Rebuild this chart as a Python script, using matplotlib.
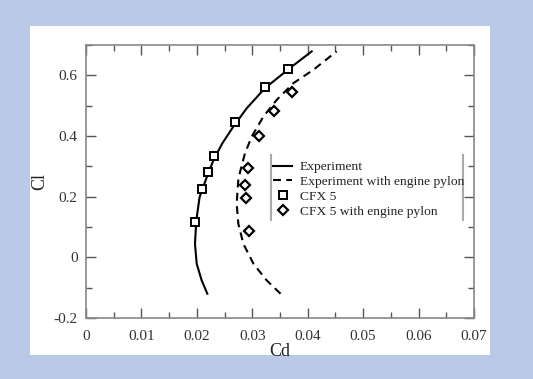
import matplotlib
matplotlib.use("Agg")
import matplotlib.pyplot as plt
from matplotlib.ticker import MultipleLocator
from matplotlib.lines import Line2D

plt.rcParams['font.family'] = ['Liberation Serif', 'DejaVu Serif']

# Experiment (clean)
exp_cd = [0.02189, 0.02087, 0.01997, 0.01966, 0.01990, 0.0205, 0.0218, 0.0230, 0.0246,
          0.02658, 0.0290, 0.0323, 0.0368, 0.04072]
exp_cl = [-0.120, -0.076, -0.021, 0.045, 0.122, 0.199, 0.265, 0.321, 0.376,
          0.431, 0.4915, 0.558, 0.624, 0.679]
# Experiment with engine pylon
pyl_cd = [0.0351, 0.0326, 0.0302, 0.02838, 0.02748, 0.02718, 0.02748, 0.0278, 0.02868,
          0.0299, 0.0320, 0.0344, 0.0374, 0.0410, 0.04522]
pyl_cl = [-0.120, -0.076, -0.021, 0.045, 0.111, 0.1775, 0.2545, 0.282, 0.343,
          0.398, 0.464, 0.519, 0.574, 0.618, 0.679]
# CFX 5
cfx_cd = [0.01966, 0.02087, 0.02207, 0.02315, 0.02688, 0.0323, 0.0365]
cfx_cl = [0.116, 0.225, 0.281, 0.334, 0.447, 0.561, 0.621]
# CFX 5 with engine pylon
cfxp_cd = [0.0294, 0.0288, 0.02868, 0.02917, 0.0313, 0.0339, 0.0371]
cfxp_cl = [0.088, 0.194, 0.238, 0.294, 0.400, 0.484, 0.546]

W, H = 533, 379
fig = plt.figure(figsize=(W/100, H/100), dpi=100)
fig.patch.set_facecolor('#bac9e7')

bg = fig.add_axes([30/W, 1-355/H, 460/W, 329/H], zorder=-5)
bg.set_facecolor('white')
bg.set_xticks([]); bg.set_yticks([])
for s in bg.spines.values():
    s.set_visible(False)

ax = fig.add_axes([86/W, 1-318/H, 388/W, 273/H])
ax.set_facecolor('white')

ax.plot(exp_cd, exp_cl, color='black', lw=1.5, label='Experiment', solid_joinstyle='round')
ax.plot(pyl_cd, pyl_cl, color='black', lw=1.5, ls=(0, (3.8, 2.6)), label='Experiment with engine pylon')
ax.plot(cfx_cd, cfx_cl, ls='none', marker='s', ms=5.5, mfc='white', mec='black', mew=1.4, label='CFX 5')
ax.plot(cfxp_cd, cfxp_cl, ls='none', marker='D', ms=5, mfc='white', mec='black', mew=1.6,
        label='CFX 5 with engine pylon')

ax.set_xlim(0, 0.07)
ax.set_ylim(-0.2, 0.7)
ax.xaxis.set_minor_locator(MultipleLocator(0.005))
ax.yaxis.set_minor_locator(MultipleLocator(0.1))
ax.set_xticks([0, 0.01, 0.02, 0.03, 0.04, 0.05, 0.06, 0.07])
ax.set_xticklabels(['0', '0.01', '0.02', '0.03', '0.04', '0.05', '0.06', '0.07'])
ax.set_yticks([-0.2, 0, 0.2, 0.4, 0.6])
ax.set_yticklabels(['-0.2', '0', '0.2', '0.4', '0.6'])

ax.tick_params(which='both', direction='in', top=True, right=True, colors='#555555',
               labelcolor='#333333', labelsize=11)
ax.tick_params(which='major', length=7, width=1)
ax.tick_params(which='minor', length=4, width=1)
ax.tick_params(axis='x', pad=9)
ax.tick_params(axis='y', pad=6)
for s in ax.spines.values():
    s.set_color('#888888')
    s.set_linewidth(1.2)

ax.set_xlabel('Cd', fontsize=13, color='#222222', labelpad=0)
ax.set_ylabel('Cl', fontsize=13, color='#222222', labelpad=4)

leg = ax.legend(loc='upper left', bbox_to_anchor=(0.455, 0.615), frameon=False, fontsize=9.7,
                handlelength=1.4, handletextpad=0.55, labelspacing=0.18, borderpad=0.3)
for t in leg.get_texts():
    t.set_color('#222222')

# legend side bars
y0, y1 = (318-155)/273, (318-220)/273
ax.add_line(Line2D([(271-86)/388]*2, [y0, y1], transform=ax.transAxes,
                   color='#aaaaaa', lw=1.5, clip_on=False))
ax.add_line(Line2D([(463-86)/388]*2, [y0, y1], transform=ax.transAxes,
                   color='#aaaaaa', lw=1.5, clip_on=False))

fig.savefig('out.png', dpi=100, facecolor=fig.get_facecolor())
